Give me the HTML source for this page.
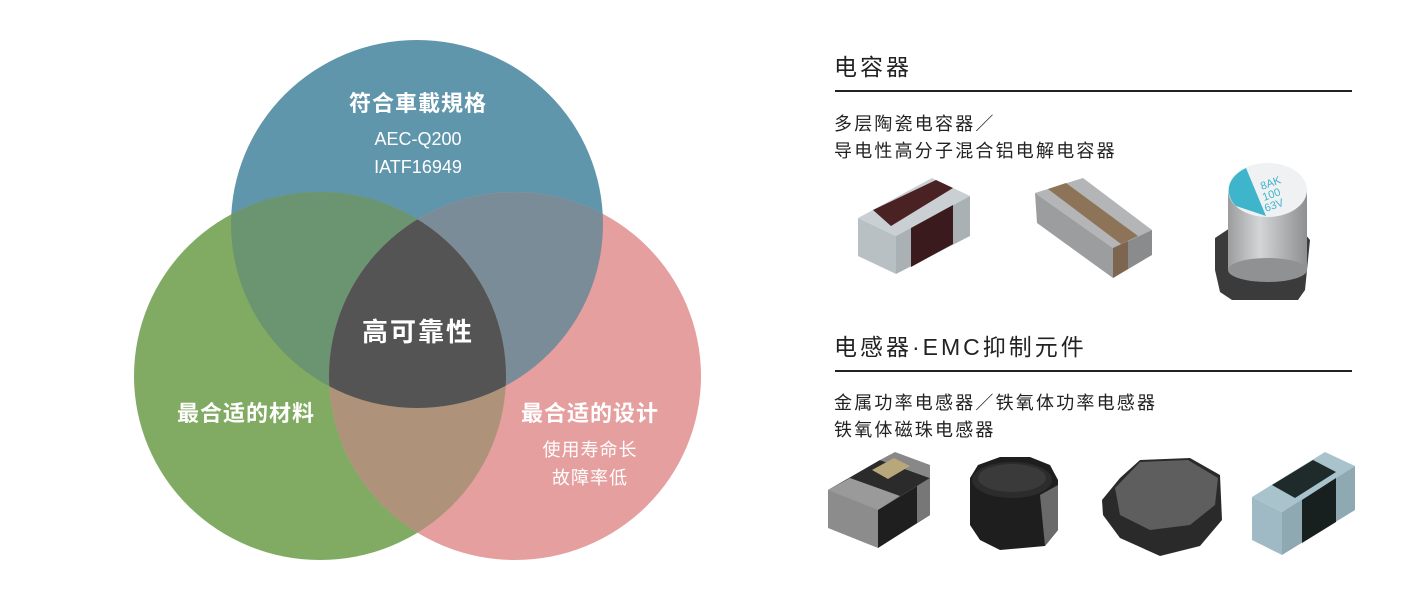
<!DOCTYPE html>
<html><head><meta charset="utf-8"><style>
html,body{margin:0;padding:0;background:#fff;}
body{width:1428px;height:600px;overflow:hidden;position:relative;font-family:"Liberation Sans","Noto Sans CJK SC",sans-serif;}
.t{position:absolute;color:#222;white-space:nowrap;}
.h{font-size:23px;letter-spacing:3px;}
.s{font-size:18px;letter-spacing:2.2px;}
.ln{position:absolute;height:2px;background:#222;}
</style></head><body>
<svg width="1428" height="600" style="position:absolute;left:0;top:0">
<defs>
<clipPath id="cT"><ellipse cx="417" cy="224" rx="186" ry="184"/></clipPath>
<clipPath id="cL"><ellipse cx="320" cy="376" rx="186" ry="184"/></clipPath>
<clipPath id="cR"><ellipse cx="515" cy="376" rx="186" ry="184"/></clipPath>
<linearGradient id="cyl" x1="0" x2="1"><stop offset="0" stop-color="#9a9c9e"/><stop offset="0.4" stop-color="#d4d5d6"/><stop offset="1" stop-color="#8d8f91"/></linearGradient>
</defs>
<ellipse cx="417" cy="224" rx="186" ry="184" fill="#6096ab"/>
<ellipse cx="320" cy="376" rx="186" ry="184" fill="#81ab63"/>
<ellipse cx="515" cy="376" rx="186" ry="184" fill="#e59f9f"/>
<g clip-path="url(#cT)"><ellipse cx="320" cy="376" rx="186" ry="184" fill="#6a9570"/><ellipse cx="515" cy="376" rx="186" ry="184" fill="#7b8c99"/></g>
<g clip-path="url(#cL)"><ellipse cx="515" cy="376" rx="186" ry="184" fill="#ae937a"/></g>
<g clip-path="url(#cL)"><g clip-path="url(#cR)"><ellipse cx="417" cy="224" rx="186" ry="184" fill="#545454"/></g></g>
<g fill="#fff" font-family="Liberation Sans,Noto Sans CJK SC,sans-serif" text-anchor="middle">
<text x="418" y="111" font-size="22" font-weight="bold" letter-spacing="1">符合車載規格</text>
<text x="418" y="145" font-size="18">AEC-Q200</text>
<text x="418" y="173" font-size="18">IATF16949</text>
<text x="418" y="341" font-size="26" font-weight="bold" letter-spacing="2">高可靠性</text>
<text x="246" y="421" font-size="22" font-weight="bold" letter-spacing="1">最合适的材料</text>
<text x="590" y="421" font-size="22" font-weight="bold" letter-spacing="1">最合适的设计</text>
<text x="590" y="456" font-size="18" letter-spacing="1">使用寿命长</text>
<text x="590" y="484" font-size="18" letter-spacing="1">故障率低</text>
</g>
<!-- chip 1 -->
<polygon points="858,218 896,236 896,274 858,256" fill="#b8c0c4"/>
<polygon points="858,218 932,178 970,196 896,236" fill="#c9cfd2"/>
<polygon points="873,210 936,180 953,188 891,226" fill="#4a2224"/>
<polygon points="896,236 970,196 970,236 896,274" fill="#a9b1b5"/>
<polygon points="911,228 953,205 953,244 911,267" fill="#3a1a1c"/>
<!-- chip 2 -->
<polygon points="1035,193 1083,178 1152,230 1113,248" fill="#b4b5b6"/>
<polygon points="1048,189 1066,183 1138,236 1121,244" fill="#8d7458"/>
<polygon points="1035,193 1113,248 1113,278 1037,223" fill="#9c9d9f"/>
<polygon points="1113,248 1152,230 1152,255 1113,278" fill="#8a8b8d"/>
<polygon points="1113,248 1128,241 1128,269 1113,278" fill="#7d6550"/>
<!-- cap 3 -->
<polygon points="1215,238 1230,228 1300,228 1310,240 1305,290 1298,300 1232,300 1220,292 1215,270" fill="#3b3b3c"/>
<rect x="1228" y="190" width="79" height="80" fill="url(#cyl)"/>
<ellipse cx="1267.5" cy="270" rx="39.5" ry="12" fill="#8f9193"/>
<ellipse cx="1267.5" cy="190" rx="39.5" ry="27" fill="#f0f1f2"/>
<path d="M1246,168 A39.5,27 0 0 0 1236,206 L1266,216 Z" fill="#3fb5cc"/>
<text x="1262" y="190" font-size="11" fill="#3fb5cc" transform="rotate(-20 1262 190)" font-family="Liberation Sans,sans-serif">8AK</text>
<text x="1264" y="201" font-size="11" fill="#3fb5cc" transform="rotate(-20 1264 201)" font-family="Liberation Sans,sans-serif">100</text>
<text x="1266" y="212" font-size="11" fill="#3fb5cc" transform="rotate(-20 1266 212)" font-family="Liberation Sans,sans-serif">63V</text>
<!-- ind 1 -->
<polygon points="828,490 880,460 930,478 878,510" fill="#2b2b2b"/>
<polygon points="828,490 850,478 900,496 878,510" fill="#9a9a9a"/>
<polygon points="880,460 895,452 930,465 930,478" fill="#888"/>
<polygon points="872,470 894,458 910,466 888,479" fill="#b8a77a"/>
<polygon points="828,490 878,510 878,548 828,528" fill="#8c8c8c"/>
<polygon points="878,510 930,478 930,515 878,548" fill="#1f1f1f"/>
<polygon points="917,486 930,478 930,515 917,523" fill="#777"/>
<!-- ind 2 -->
<polygon points="970,478 978,465 1000,457 1030,457 1050,465 1058,480 1058,530 1045,546 1000,550 980,540 970,525" fill="#1e1e1e"/>
<ellipse cx="1012" cy="480" rx="40" ry="18" fill="#2c2c2c"/>
<ellipse cx="1012" cy="478" rx="34" ry="14" fill="#3a3a3a"/>
<polygon points="1040,495 1058,485 1058,530 1045,546" fill="#6a6a6a"/>
<!-- ind 3 -->
<polygon points="1102,500 1120,478 1140,460 1190,458 1220,475 1222,520 1200,546 1160,556 1120,538 1103,515" fill="#2a2a2a"/>
<polygon points="1115,488 1140,462 1188,460 1218,478 1215,505 1190,525 1150,530 1120,515" fill="#5e5e5e"/>
<!-- ind 4 -->
<polygon points="1252,497 1325,452 1355,466 1282,512" fill="#a9c3cd"/>
<polygon points="1272,485 1313,460 1336,472 1295,498" fill="#1f2a2a"/>
<polygon points="1252,497 1282,512 1282,555 1252,540" fill="#9fbac5"/>
<polygon points="1282,512 1355,466 1355,510 1282,555" fill="#8fa9b3"/>
<polygon points="1302,500 1336,478 1336,522 1302,543" fill="#17201f"/>
</svg>
<div class="t h" style="left:834px;top:48px;">电容器</div>
<div class="ln" style="left:835px;top:90px;width:517px;"></div>
<div class="t s" style="left:834px;top:110px;">多层陶瓷电容器／</div>
<div class="t s" style="left:834px;top:137px;">导电性高分子混合铝电解电容器</div>
<div class="t h" style="left:834px;top:328px;">电感器·EMC抑制元件</div>
<div class="ln" style="left:835px;top:370px;width:517px;"></div>
<div class="t s" style="left:834px;top:389px;">金属功率电感器／铁氧体功率电感器</div>
<div class="t s" style="left:834px;top:416px;">铁氧体磁珠电感器</div>
</body></html>
